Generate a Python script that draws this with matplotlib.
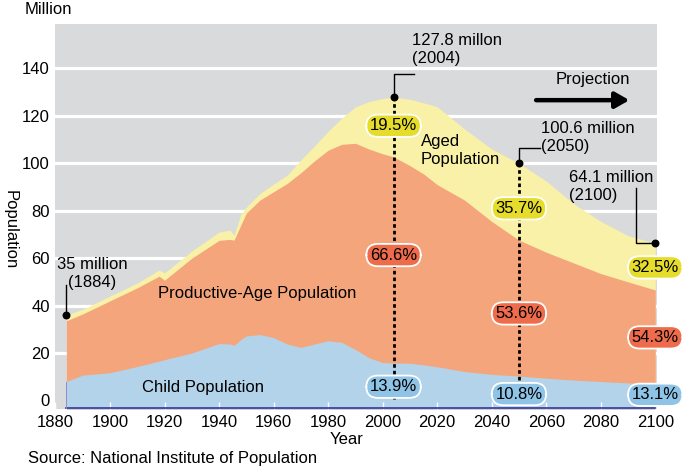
import matplotlib.pyplot as plt
import numpy as np

YEARS = [1884, 1890, 1900, 1910, 1918, 1920, 1930, 1940, 1944, 1945.5, 1948, 1950,
         1955, 1960, 1965, 1970, 1975, 1980, 1985, 1990, 1995, 2000, 2004, 2010,
         2015, 2020, 2030, 2040, 2050, 2060, 2070, 2080, 2090, 2100]
CHILD = [8.0, 10.7, 11.7, 14.3, 16.6, 17.2, 20.0, 24.0, 23.8, 23.2, 25.7, 27.2,
         27.8, 26.5, 23.8, 22.4, 23.8, 25.2, 24.5, 21.5, 18.0, 16.0, 15.8, 15.7,
         15.0, 14.2, 12.2, 11.0, 10.3, 9.4, 8.6, 8.0, 7.4, 6.9]
PRODUCTIVE = [25.6, 25.8, 30.3, 33.2, 35.8, 33.5, 40.0, 43.5, 44.1, 44.4, 48.3, 51.8,
              56.7, 61.5, 67.7, 73.6, 77.2, 80.3, 83.5, 86.9, 88.0, 88.0, 86.9, 83.3,
              80.5, 76.8, 72.3, 64.5, 57.3, 53.1, 49.4, 45.5, 42.6, 39.7]
AGED = [2.4, 2.0, 2.0, 2.0, 2.6, 3.1, 3.0, 3.5, 3.9, 2.1, 4.5, 2.5,
        2.8, 3.2, 3.5, 5.4, 6.3, 8.0, 11.0, 15.4, 20.0, 23.3, 25.1, 28.0,
        30.0, 32.8, 30.0, 30.5, 32.4, 30.0, 25.0, 22.0, 19.5, 19.6]

SHARE_YEARS = [2004, 2050, 2100]
AGED_SHARE = ["19.5%", "35.7%", "32.5%"]
PRODUCTIVE_SHARE = ["66.6%", "53.6%", "54.3%"]
CHILD_SHARE = ["13.9%", "10.8%", "13.1%"]

X_TICKS = list(range(1880, 2101, 20))
Y_TICKS = list(range(0, 141, 20))

GRAY = "#d9dadb"
YELLOW = "#f8f1a7"
ORANGE = "#f5a57b"
BLUE = "#b3d3ea"
BADGE_COLORS = {"aged": "#e5dc2b", "productive": "#ee6c4b", "child": "#8fc4e6"}
Y_MIN, Y_MAX = -3.6, 158.7

plt.rcParams["font.family"] = ["Liberation Sans", "DejaVu Sans"]
plt.rcParams["font.size"] = 12

years = np.array(YEARS)
child_top = np.array(CHILD)
productive_top = child_top + np.array(PRODUCTIVE)
total = productive_top + np.array(AGED)

fig = plt.figure(figsize=(6.85, 4.68), dpi=100)
ax = fig.add_axes([0.081, 0.126, 0.878, 0.8227])
ax.set_facecolor(GRAY)
ax.set_xlim(1880, 2100.6)
ax.set_ylim(Y_MIN, Y_MAX)
for spine in ax.spines.values():
    spine.set_visible(False)

for y in Y_TICKS[1:]:
    ax.axhline(y, color="white", lw=2.3, zorder=0.5)

# overlapping fills avoid seams between layers
ax.fill_between(years, Y_MIN, total, color=YELLOW, lw=0, zorder=1)
ax.fill_between(years, Y_MIN, productive_top, color=ORANGE, lw=0, zorder=1.1)
ax.fill_between(years, Y_MIN, child_top, color=BLUE, lw=0, zorder=1.2)
ax.plot([years[0], years[-1]], [Y_MIN + 0.3, Y_MIN + 0.3], color="#3f43a3", lw=1.3, zorder=3, clip_on=False)
ax.plot([years[0], years[0]], [Y_MIN, child_top[0]], color="#8a8cd0", lw=0.7, zorder=3)

ax.set_xticks(X_TICKS)
ax.set_yticks(Y_TICKS)
ax.tick_params(axis="x", direction="in", color="white", length=5, width=1, pad=4, labelsize=12)
ax.tick_params(axis="y", length=0, pad=4, labelsize=12)

# dotted guides at 2004 and 2050
ax.plot([2004, 2004], [total[YEARS.index(2004)], 0.5], color="black", lw=2, dashes=(1.3, 1.1), zorder=4)
ax.plot([2050, 2050], [total[YEARS.index(2050)], 8], color="black", lw=2, dashes=(1.3, 1.1), zorder=4)

# callouts: value dot, leader line, text
dot_years = [1884, 2004, 2050, 2100]
dot_vals = [total[YEARS.index(y)] for y in dot_years]
ax.scatter(dot_years, dot_vals, s=22, color="black", zorder=6, clip_on=False)

ax.plot([1884, 1884], [dot_vals[0], 48.7], color="black", lw=1, zorder=5)
ax.text(1893.6, 53.6, "35 million\n(1884)", ha="center", va="center", linespacing=1.25, zorder=6)

ax.plot([2004, 2004, 2011.6], [dot_vals[1], 137.6, 137.6], color="black", lw=1, zorder=5)
ax.text(2010.9, 148.0, "127.8 millon\n(2004)", ha="left", va="center", linespacing=1.25, zorder=6)

ax.plot([2050, 2050, 2057.8], [dot_vals[2], 106.3, 106.3], color="black", lw=1, zorder=5)
ax.text(2057.9, 110.7, "100.6 million\n(2050)", ha="left", va="center", linespacing=1.25, zorder=6)

ax.plot([2093, 2093, 2100], [89.5, dot_vals[3], dot_vals[3]], color="black", lw=1, zorder=5, clip_on=False)
ax.text(2068.5, 90.0, "64.1 million\n(2100)", ha="left", va="center", linespacing=1.25, zorder=6)

ax.text(2077, 135.2, "Projection", ha="center", va="center", zorder=6)
ax.annotate("", xy=(2090.5, 126.6), xytext=(2056.3, 126.6),
            arrowprops=dict(arrowstyle="-|>,head_length=0.7,head_width=0.4", lw=3.2,
                            color="black", shrinkA=0, shrinkB=0), zorder=6)

# layer names
ax.text(2014, 105.3, "Aged\nPopulation", ha="left", va="center", linespacing=1.25, zorder=6)
ax.text(1917.5, 45.2, "Productive-Age Population", ha="left", va="center", zorder=6)
ax.text(1934.2, 5.3, "Child Population", ha="center", va="center", zorder=6)

# share badges
badge_y = {"aged": [115.8, 81.0, 56.1], "productive": [61.3, 36.7, 26.6], "child": [5.8, 2.7, 2.4]}
shares = {"aged": AGED_SHARE, "productive": PRODUCTIVE_SHARE, "child": CHILD_SHARE}
for group, labels in shares.items():
    for year, y, label in zip(SHARE_YEARS, badge_y[group], labels):
        ax.text(year, y, label, ha="center", va="center", zorder=7, clip_on=False,
                bbox=dict(boxstyle="round,pad=0.22,rounding_size=0.7",
                          facecolor=BADGE_COLORS[group], edgecolor="white", lw=1.3))

fig.text(25 / 685, 1 - 10 / 468, "Million", ha="left", va="center", fontsize=12)
fig.text(10 / 685, 1 - 230 / 468, "Population", ha="center", va="center", rotation=270, fontsize=12)
fig.text(347 / 685, 1 - 439 / 468, "Year", ha="center", va="center", fontsize=12)
fig.text(28 / 685, 1 - 459 / 468, "Source: National Institute of Population", ha="left", va="center", fontsize=12)

fig.savefig("out.png", dpi=100)
